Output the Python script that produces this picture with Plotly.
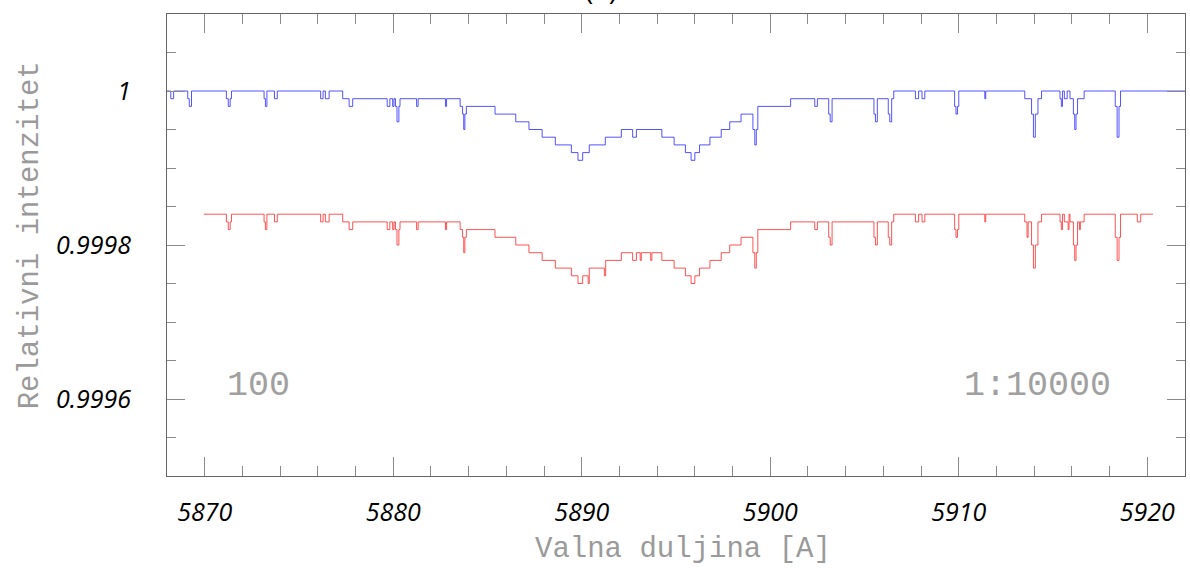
import plotly.graph_objects as go

# ---- data (wavelength in Angstrom, relative intensity) ----
blue_wl = [5868.0, 5868.2, 5868.35, 5869.1, 5869.18, 5869.3, 5871.15, 5871.25, 5871.35, 5871.42,
           5873.15, 5873.22, 5873.3, 5873.7, 5873.85, 5876.15, 5876.28, 5876.4, 5876.6, 5877.32,
           5877.66, 5877.85, 5879.68, 5879.82, 5879.97, 5880.04, 5880.12, 5880.2, 5880.3, 5880.36,
           5881.24, 5881.32, 5882.77, 5882.83, 5883.55, 5883.68, 5883.74, 5883.8, 5883.88, 5885.4,
           5886.5, 5887.2, 5887.9, 5888.6, 5889.45, 5889.8, 5890.05, 5890.4, 5891.25, 5892.1,
           5892.7, 5892.9, 5894.25, 5894.9, 5895.5, 5895.8, 5896.0, 5896.25, 5896.8, 5897.4,
           5897.85, 5898.45, 5899.08, 5899.18, 5899.26, 5899.34, 5901.08, 5902.36, 5902.5, 5903.1,
           5903.18, 5903.28, 5905.5, 5905.58, 5905.68, 5906.26, 5906.34, 5906.44, 5906.55, 5907.7,
           5907.87, 5908.05, 5908.2, 5909.78, 5909.85, 5909.93, 5910.0, 5911.38, 5911.43, 5913.5,
           5913.86, 5913.96, 5914.06, 5914.2, 5914.39, 5915.37, 5915.44, 5915.5, 5915.6, 5915.75,
           5915.9, 5916.08, 5916.15, 5916.22, 5916.3, 5916.65, 5918.3, 5918.4, 5918.5, 5918.58,
           5922.0]
blue_int = [1.0, 0.99999, 1.0, 0.99999, 0.99998, 1.0, 0.99999, 0.99998, 0.99999, 1.0,
            0.99999, 0.99998, 1.0, 0.99999, 1.0, 0.99999, 1.0, 0.99999, 1.0, 0.99999,
            0.99998, 0.99999, 0.99998, 0.99999, 0.99998, 0.99999, 0.99998, 0.99996, 0.99998, 0.99999,
            0.99998, 0.99999, 0.99998, 0.99999, 0.99998, 0.99997, 0.99995, 0.99997, 0.99998, 0.99997,
            0.99996, 0.99995, 0.99994, 0.99993, 0.99992, 0.99991, 0.99992, 0.99993, 0.99994, 0.99995,
            0.99994, 0.99995, 0.99994, 0.99993, 0.99992, 0.99991, 0.99992, 0.99993, 0.99994, 0.99995,
            0.99996, 0.99997, 0.99995, 0.99993, 0.99995, 0.99998, 0.99999, 0.99998, 0.99999, 0.99997,
            0.99996, 0.99999, 0.99997, 0.99996, 0.99999, 0.99997, 0.99996, 0.99999, 1.0, 0.99999,
            1.0, 0.99999, 1.0, 0.99998, 0.99997, 0.99998, 1.0, 0.99999, 1.0, 0.99999,
            0.99997, 0.99994, 0.99997, 0.99999, 1.0, 0.99999, 0.99998, 1.0, 0.99999, 1.0,
            0.99999, 0.99997, 0.99995, 0.99997, 0.99999, 1.0, 0.99998, 0.99994, 0.99998, 1.0,
            1.0]

red_wl = [5869.95, 5871.15, 5871.25, 5871.35, 5871.42, 5873.15, 5873.22, 5873.3, 5873.7, 5873.85,
          5876.15, 5876.28, 5876.4, 5876.6, 5877.32, 5877.66, 5877.85, 5879.68, 5879.82, 5879.97,
          5880.04, 5880.12, 5880.2, 5880.3, 5880.36, 5881.24, 5881.32, 5882.77, 5882.83, 5883.55,
          5883.68, 5883.74, 5883.8, 5883.88, 5885.4, 5886.5, 5887.2, 5887.9, 5888.6, 5889.45,
          5889.8, 5890.05, 5890.34, 5890.4, 5891.2, 5891.27, 5892.1, 5892.7, 5892.9, 5893.1,
          5893.16, 5893.66, 5893.72, 5894.25, 5894.9, 5895.5, 5895.8, 5896.0, 5896.25, 5896.8,
          5897.4, 5897.85, 5898.45, 5899.08, 5899.18, 5899.26, 5899.34, 5901.08, 5902.36, 5902.5,
          5903.1, 5903.18, 5903.28, 5905.5, 5905.58, 5905.68, 5906.26, 5906.34, 5906.44, 5906.55,
          5907.7, 5907.87, 5908.05, 5908.2, 5909.78, 5909.85, 5909.93, 5910.0, 5911.38, 5911.43,
          5913.5, 5913.62, 5913.68, 5913.86, 5913.96, 5914.06, 5914.2, 5914.39, 5915.37, 5915.44,
          5915.5, 5915.6, 5915.8, 5915.85, 5915.9, 5916.08, 5916.15, 5916.22, 5916.3, 5916.4,
          5916.45, 5916.65, 5918.3, 5918.4, 5918.5, 5918.58, 5919.47, 5919.65, 5920.3]
red_int = [0.99984, 0.99983, 0.99982, 0.99983, 0.99984, 0.99983, 0.99982, 0.99984, 0.99983, 0.99984,
           0.99983, 0.99984, 0.99983, 0.99984, 0.99983, 0.99982, 0.99983, 0.99982, 0.99983, 0.99982,
           0.99983, 0.99982, 0.99980, 0.99982, 0.99983, 0.99982, 0.99983, 0.99982, 0.99983, 0.99982,
           0.99981, 0.99979, 0.99981, 0.99982, 0.99981, 0.99980, 0.99979, 0.99978, 0.99977, 0.99976,
           0.99975, 0.99976, 0.99975, 0.99977, 0.99976, 0.99978, 0.99979, 0.99978, 0.99979, 0.99978,
           0.99979, 0.99978, 0.99979, 0.99978, 0.99977, 0.99976, 0.99975, 0.99976, 0.99977, 0.99978,
           0.99979, 0.99980, 0.99981, 0.99979, 0.99977, 0.99979, 0.99982, 0.99983, 0.99982, 0.99983,
           0.99981, 0.99980, 0.99983, 0.99981, 0.99980, 0.99983, 0.99981, 0.99980, 0.99983, 0.99984,
           0.99983, 0.99984, 0.99983, 0.99984, 0.99982, 0.99981, 0.99982, 0.99984, 0.99983, 0.99984,
           0.99983, 0.99981, 0.99983, 0.99980, 0.99977, 0.99980, 0.99983, 0.99984, 0.99983, 0.99982,
           0.99984, 0.99983, 0.99982, 0.99984, 0.99983, 0.99980, 0.99978, 0.99980, 0.99983, 0.99982,
           0.99983, 0.99984, 0.99981, 0.99978, 0.99981, 0.99984, 0.99983, 0.99984, 0.99984]

y_tickvals = [0.9996, 0.9998, 1.0]
y_ticktext = ["0.9996", "0.9998", "1"]
x_tickvals = [5870, 5880, 5890, 5900, 5910, 5920]
x_ticktext = ["5870", "5880", "5890", "5900", "5910", "5920"]

x_title = "Valna duljina [A]"
y_title = "Relativni intenzitet"
label_left = "100"
label_right = "1:10000"
panel_title = "(a)"

# ---- figure ----
fig = go.Figure()
fig.add_trace(go.Scatter(x=blue_wl, y=blue_int, mode="lines", line_shape="hv",
                         line=dict(color="rgba(40,40,255,0.8)", width=1), showlegend=False))
fig.add_trace(go.Scatter(x=red_wl, y=red_int, mode="lines", line_shape="hv",
                         line=dict(color="rgba(255,40,40,0.8)", width=1), showlegend=False))

axis_col = "#666666"
tick_col = "#8a8a8a"
tickfont = dict(family="Open Sans", size=25, color="black", style="italic")

fig.update_xaxes(range=[5868.0, 5922.0], showgrid=False, zeroline=False,
                 showline=True, linecolor=axis_col, linewidth=1, mirror="ticks",
                 ticks="inside", ticklen=19, tickcolor=tick_col, tickwidth=1,
                 tickmode="array", tickvals=x_tickvals, ticktext=x_ticktext,
                 tickfont=tickfont, ticklabelstandoff=14,
                 minor=dict(ticks="inside", dtick=2, tick0=5870, ticklen=10,
                            tickcolor=tick_col, tickwidth=1, showgrid=False))
fig.update_yaxes(range=[0.9995, 1.0001], showgrid=False, zeroline=False,
                 showline=True, linecolor=axis_col, linewidth=1, mirror="ticks",
                 ticks="inside", ticklen=18, tickcolor=tick_col, tickwidth=1,
                 tickmode="array", tickvals=y_tickvals, ticktext=y_ticktext,
                 tickfont=tickfont, ticklabelstandoff=30,
                 minor=dict(ticks="inside", dtick=0.00005, tick0=0.9995, ticklen=9,
                            tickcolor=tick_col, tickwidth=1, showgrid=False))

title_font = dict(family="Liberation Mono", size=29, color="#9a9a9a")
label_font = dict(family="Liberation Mono", size=35, color="#a0a0a0")

fig.update_layout(
    width=1190, height=574,
    margin=dict(l=167, r=5, t=14, b=98),
    paper_bgcolor="white", plot_bgcolor="white",
    annotations=[
        dict(text=x_title, xref="paper", yref="paper", x=0.507, y=-0.16,
             xanchor="center", yanchor="middle", showarrow=False, font=title_font),
        dict(text=y_title, xref="paper", yref="paper", x=-0.134, y=0.52,
             xanchor="center", yanchor="middle", textangle=-90, showarrow=False, font=title_font),
        dict(text=label_left, xref="paper", yref="paper", x=0.09, y=0.195,
             xanchor="center", yanchor="middle", showarrow=False, font=label_font),
        dict(text=label_right, xref="paper", yref="paper", x=0.855, y=0.195,
             xanchor="center", yanchor="middle", showarrow=False, font=label_font),
        dict(text=panel_title, xref="paper", yref="paper", x=0.426, y=1.0,
             xanchor="center", yanchor="bottom", yshift=4, showarrow=False,
             font=dict(family="Open Sans", size=28, color="black")),
    ],
)

fig.write_html("out.html", config={"displayModeBar": False},
               post_script="document.body.style.margin='0';")
